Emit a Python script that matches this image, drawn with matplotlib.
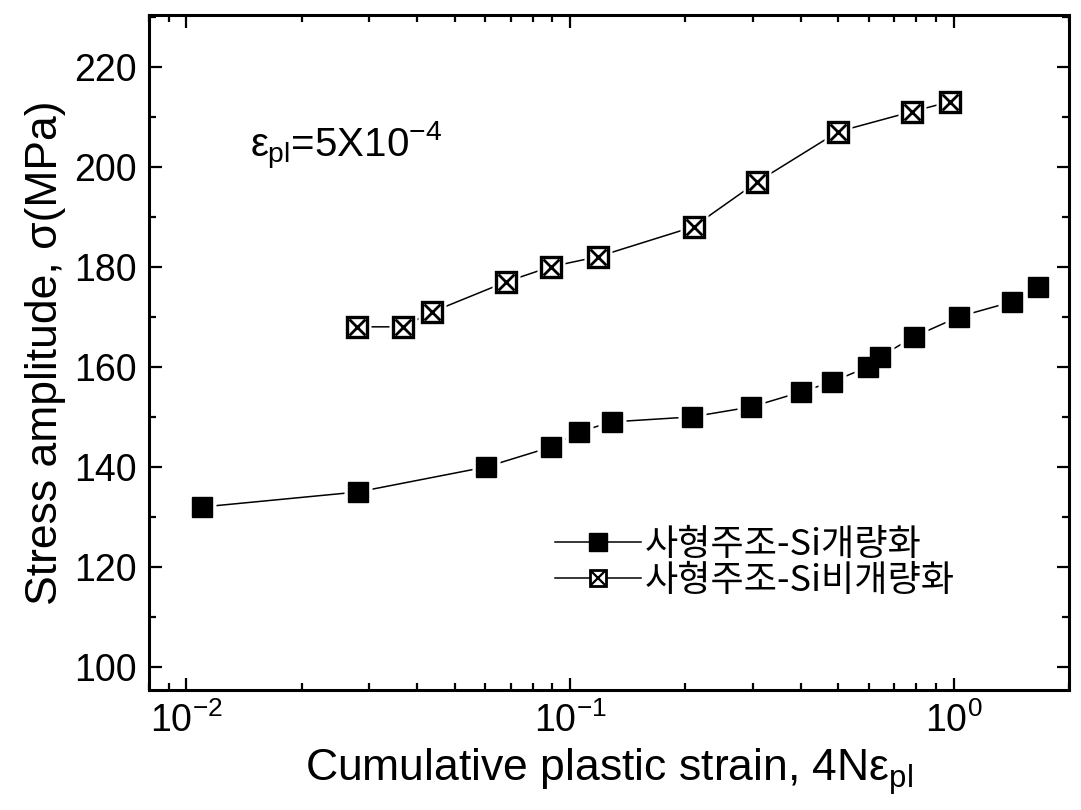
import numpy as np
import matplotlib
matplotlib.use('Agg')
import matplotlib.pyplot as plt
from matplotlib.lines import Line2D
from matplotlib.legend_handler import HandlerTuple

# data
x_mod = [0.011, 0.028, 0.0605, 0.0894, 0.1055, 0.1285, 0.2075, 0.297, 0.401,
         0.482, 0.598, 0.643, 0.787, 1.03, 1.42, 1.66]
y_mod = [132, 135, 140, 144, 147, 149, 150, 152, 155, 157, 160, 162, 166, 170, 173, 176]

x_unmod = [0.0278, 0.0366, 0.0438, 0.0682, 0.089, 0.118, 0.21, 0.308, 0.5, 0.778, 0.98]
y_unmod = [168, 168, 171, 177, 180, 182, 188, 197, 207, 211, 213]

labels = ['사형주조-Si개량화', '사형주조-Si비개량화']

plt.rcParams['font.family'] = ['Liberation Sans', 'DejaVu Sans']
plt.rcParams['mathtext.fontset'] = 'custom'
plt.rcParams['mathtext.rm'] = 'Liberation Sans'
plt.rcParams['mathtext.it'] = 'Liberation Sans'
plt.rcParams['mathtext.bf'] = 'Liberation Sans'

fig = plt.figure(figsize=(10.81, 8.1), dpi=100)
ax = fig.add_axes([0.138, 0.148, 0.851, 0.834])

ms = 14
# lines, then white pads so the lines stop short of the markers
ax.plot(x_mod, y_mod, '-', color='black', lw=1.1, zorder=2)
ax.plot(x_unmod, y_unmod, '-', color='black', lw=1.1, zorder=2)
ax.plot(x_mod, y_mod, 's', ms=ms + 6, mfc='white', mec='none', zorder=3)
ax.plot(x_unmod, y_unmod, 's', ms=ms + 6, mfc='white', mec='none', zorder=3)
ax.plot(x_mod, y_mod, 's', ms=ms, mfc='black', mec='black', zorder=4)
ax.plot(x_unmod, y_unmod, 's', ms=ms, mfc='white', mec='black', mew=2.4, zorder=4)
ax.plot(x_unmod, y_unmod, 'x', ms=ms - 2, mec='black', mew=2.0, zorder=5)

ax.set_xscale('log')
ax.set_xlim(0.008, 2.0)
ax.set_ylim(95.4, 230.4)
ax.set_yticks(np.arange(100, 221, 20))
ax.set_yticks(np.arange(110, 231, 20), minor=True)

for s in ax.spines.values():
    s.set_linewidth(2.2)
ax.tick_params(which='both', direction='in', top=True, right=True, width=1.6)
ax.tick_params(which='major', length=9, labelsize=27, pad=9)
ax.tick_params(which='minor', length=5)

ax.set_xlabel(r'Cumulative plastic strain, 4N$\varepsilon_{pl}$', fontsize=32, labelpad=4)
ax.set_ylabel('Stress amplitude, σ(MPa)', fontsize=32, labelpad=6)

ax.text(0.11, 0.805, r'$\varepsilon_{pl}$=5X10$^{-4}$', transform=ax.transAxes,
        fontsize=29, va='center', ha='left')

h1 = Line2D([], [], color='black', lw=1.1, marker='s', ms=ms - 1, mfc='black', mec='black')
h2a = Line2D([], [], color='black', lw=1.1, marker='s', ms=ms - 2, mfc='white', mec='black', mew=2)
h2b = Line2D([], [], ls='none', marker='x', ms=ms - 4, mec='black', mew=1.6)
fig.legend([h1, (h2a, h2b)], labels, loc='center left', bbox_to_anchor=(0.513, 0.305),
           frameon=False, handlelength=2.4, handletextpad=0.1, labelspacing=0.0,
           borderpad=0, borderaxespad=0,
           prop={'family': ['Noto Sans CJK KR', 'DejaVu Sans'], 'size': 26},
           handler_map={tuple: HandlerTuple(ndivide=1)})

fig.savefig('out.png', dpi=100)
